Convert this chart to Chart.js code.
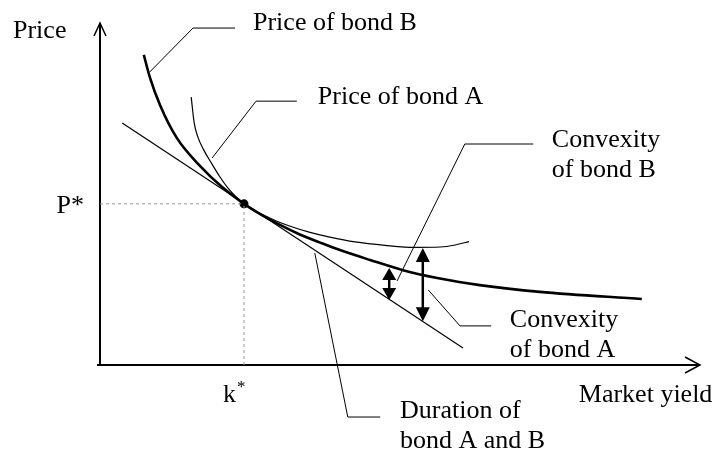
<!DOCTYPE html>
<html>
<head>
<meta charset="utf-8">
<title>Duration and convexity</title>
<script src="https://cdn.jsdelivr.net/npm/chart.js@4.4.1/dist/chart.umd.min.js"></script>
<style>
  html, body { margin: 0; padding: 0; background: #fff; }
  #wrap { position: relative; width: 714px; height: 454px; }
</style>
</head>
<body>
<div id="wrap"><canvas id="myChart"></canvas></div>
<script>
// Market yield (x) and price (y) in axis units, both axes run 0..10
const bondBYield = [0.73, 0.83, 1.0, 1.28, 1.67, 2.03, 2.4, 2.67, 3.0, 3.33, 3.67, 4.0, 4.5, 5.05, 5.62, 6.33, 7.33, 9.03];
const bondBPrice = [9.12, 8.47, 7.65, 6.68, 5.85, 5.24, 4.74, 4.44, 4.12, 3.84, 3.6, 3.38, 3.09, 2.79, 2.56, 2.35, 2.15, 1.94];

const bondAYield = [1.52, 1.57, 1.63, 1.73, 1.87, 2.0, 2.13, 2.27, 2.4, 2.53, 2.7, 2.92, 3.17, 3.5, 3.83, 4.25, 4.75, 5.25, 5.67, 5.92, 6.15];
const bondAPrice = [7.88, 7.12, 6.71, 6.32, 5.9, 5.53, 5.21, 4.94, 4.74, 4.59, 4.43, 4.25, 4.08, 3.9, 3.76, 3.62, 3.52, 3.46, 3.47, 3.53, 3.63];

// tangent (duration) line
const durationYield = [0.37, 6.05];
const durationPrice = [7.12, 0.5];

const kStar = 2.4;
const pStar = 4.74;

// convexity gaps: yield, price on tangent, price on curve
const convexityB = [4.82, 1.91, 2.85];
const convexityA = [5.38, 1.29, 3.44];

// callouts: leader line (axis units) and label lines
const callouts = [
  { path: [[0.83, 8.62], [1.55, 9.91], [2.25, 9.91]], at: [2.55, 9.85], lines: ['Price of bond B'] },
  { path: [[1.87, 6.09], [2.6, 7.76], [3.28, 7.76]], at: [3.63, 7.68], lines: ['Price of bond A'] },
  { path: [[4.95, 2.47], [6.08, 6.5], [7.22, 6.5]], at: [7.53, 6.41], lines: ['Convexity', 'of bond B'] },
  { path: [[5.47, 2.21], [6.0, 1.15], [6.52, 1.15]], at: [6.83, 1.12], lines: ['Convexity', 'of bond A'] },
  { path: [[3.58, 3.29], [4.13, -1.53], [4.67, -1.53]], at: [5.0, -1.56], lines: ['Duration of', 'bond A and B'] }
];

const FONT = '26px "Liberation Serif", "Times New Roman", serif';

function pts(xs, ys) {
  return xs.map((v, i) => ({ x: v, y: ys[i] }));
}

function arrowHead(ctx, x, y, dir, len, half) {
  // dir = -1 points up, 1 points down
  ctx.beginPath();
  ctx.moveTo(x, y);
  ctx.lineTo(x - half, y - dir * len);
  ctx.lineTo(x + half, y - dir * len);
  ctx.closePath();
  ctx.fill();
}

const overlay = {
  id: 'overlay',
  beforeDatasetsDraw(chart) {
    const { ctx, scales: { x, y } } = chart;
    const x0 = x.getPixelForValue(0), y0 = y.getPixelForValue(0);
    const top = y.getPixelForValue(10.06), right = x.getPixelForValue(10);
    ctx.save();
    ctx.strokeStyle = '#000';
    ctx.lineWidth = 2;
    ctx.beginPath();
    ctx.moveTo(x0, y0); ctx.lineTo(x0, top);
    ctx.moveTo(x0 - 3, y0); ctx.lineTo(right, y0);
    ctx.stroke();
    ctx.lineWidth = 1.5;
    ctx.beginPath();
    ctx.moveTo(x0 - 6, top + 13); ctx.lineTo(x0, top); ctx.lineTo(x0 + 6, top + 13);
    ctx.moveTo(right - 15, y0 - 8); ctx.lineTo(right, y0); ctx.lineTo(right - 15, y0 + 8);
    ctx.stroke();
    ctx.restore();
  },
  afterDatasetsDraw(chart) {
    const { ctx, scales: { x, y } } = chart;
    const X = v => x.getPixelForValue(v), Y = v => y.getPixelForValue(v);
    ctx.save();
    ctx.fillStyle = '#000';
    ctx.strokeStyle = '#000';

    // convexity double arrows
    for (const c of [convexityB, convexityA]) {
      const cx = X(c[0]), yb = Y(c[1]), yt = Y(c[2]);
      const len = (yb - yt) > 50 ? 14 : 12;
      ctx.lineWidth = 2.5;
      ctx.beginPath();
      ctx.moveTo(cx, yt + len - 2); ctx.lineTo(cx, yb - len + 2);
      ctx.stroke();
      arrowHead(ctx, cx, yt, -1, len, 7);
      arrowHead(ctx, cx, yb, 1, len, 7);
    }

    // leader lines and labels
    ctx.font = FONT;
    ctx.textBaseline = 'alphabetic';
    ctx.lineWidth = 1;
    for (const c of callouts) {
      ctx.beginPath();
      c.path.forEach((p, i) => i ? ctx.lineTo(X(p[0]), Y(p[1])) : ctx.moveTo(X(p[0]), Y(p[1])));
      ctx.stroke();
      c.lines.forEach((t, i) => ctx.fillText(t, X(c.at[0]), Y(c.at[1]) + i * 30));
    }

    // axis labels
    const x0 = X(0), y0 = Y(0);
    ctx.fillText('Price', 13, Y(9.62));
    ctx.textAlign = 'right';
    ctx.fillText('P*', x0 - 16, Y(pStar) + 9);
    ctx.textAlign = 'left';
    ctx.fillText('k', X(kStar) - 21, y0 + 37);
    ctx.font = '17px "Liberation Serif", "Times New Roman", serif';
    ctx.fillText('*', X(kStar) - 7, y0 + 27);
    ctx.font = FONT;
    ctx.fillText('Market yield', X(7.98), y0 + 37);
    ctx.restore();
  }
};

const canvas = document.getElementById('myChart');
new Chart(canvas, {
  type: 'scatter',
  data: {
    datasets: [
      { data: [{ x: 0, y: pStar }, { x: kStar, y: pStar }], showLine: true, borderColor: '#9a9a9a',
        borderWidth: 1, borderDash: [3, 3], pointRadius: 0 },
      { data: [{ x: kStar, y: 0 }, { x: kStar, y: pStar }], showLine: true, borderColor: '#9a9a9a',
        borderWidth: 1, borderDash: [3, 3], pointRadius: 0 },
      { data: pts(durationYield, durationPrice), showLine: true, borderColor: '#000',
        borderWidth: 1.2, pointRadius: 0 },
      { data: pts(bondAYield, bondAPrice), showLine: true, borderColor: '#000',
        borderWidth: 1.2, pointRadius: 0, cubicInterpolationMode: 'monotone' },
      { data: pts(bondBYield, bondBPrice), showLine: true, borderColor: '#000',
        borderWidth: 2.6, pointRadius: 0, cubicInterpolationMode: 'monotone' },
      { data: [{ x: kStar, y: pStar }], pointRadius: 4.5, pointBackgroundColor: '#000',
        pointBorderWidth: 0 }
    ]
  },
  options: {
    responsive: true,
    maintainAspectRatio: false,
    animation: false,
    layout: { padding: { left: 100, right: 14, top: 25, bottom: 89 } },
    scales: {
      x: { type: 'linear', min: 0, max: 10, display: false },
      y: { type: 'linear', min: 0, max: 10, display: false }
    },
    plugins: { legend: { display: false }, tooltip: { enabled: false } },
    events: []
  },
  plugins: [overlay]
});
</script>
</body>
</html>
